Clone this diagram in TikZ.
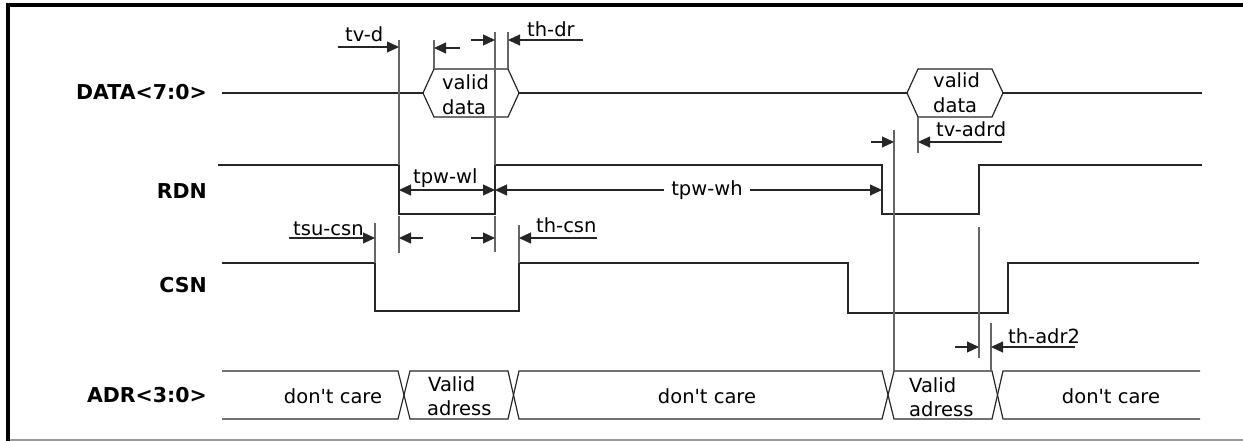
\documentclass[tikz,border=0pt]{standalone}
\usepackage{fontspec}
\newfontfamily\dv{DejaVu Sans}
\usetikzlibrary{arrows.meta}
\begin{document}
\begin{tikzpicture}[x=1pt,y=-1pt,
  sig/.style={draw=black!85,line width=1.2pt,line join=miter},
  tmark/.style={draw=black!60,line width=1.2pt},
  dim/.style={draw=black!85,line width=1.2pt,-{Triangle[length=12pt,width=11pt]}},
  dimb/.style={draw=black!85,line width=1.2pt,{Triangle[length=12pt,width=11pt]}-{Triangle[length=12pt,width=11pt]}},
  lbl/.style={inner sep=0pt,font=\dv\fontsize{19.5}{22}\selectfont},
  sigl/.style={inner sep=0pt,anchor=base east,font=\dv\bfseries\fontsize{20.5}{24}\selectfont},
]
\useasboundingbox (0,0) rectangle (1243,441);
% frame
\draw[line width=4pt] (6,4.7) -- (1243,4.7);
\draw[line width=4pt] (8,2.7) -- (8,441);
\draw[black!40,line width=1.5pt] (10,440) -- (1243,440);

% signal names
\node[sigl] (ldata) at (207,100) {DATA<7:0>};
\node[sigl] (lrdn)  at (207,198) {RDN};
\node[sigl] (lcsn)  at (207,292) {CSN};
\node[sigl] (ladr)  at (207,402) {ADR<3:0>};

% DATA
\draw[sig] (222,93) -- (423,93);
\draw[sig] (423,93) -- (434,69) -- (508,69) -- (519,93) -- (508,117) -- (434,117) -- cycle;
\draw[sig] (519,93) -- (907,93);
\draw[sig] (907,93) -- (918,69) -- (992,69) -- (1003,93) -- (992,117) -- (918,117) -- cycle;
\draw[sig] (1003,93) -- (1202,93);
\node[lbl,anchor=base west] (hv1) at (442,90) {valid};
\node[lbl,anchor=base west] (hd1) at (442,115) {data};
\node[lbl,anchor=base west] (hv2) at (933,88) {valid};
\node[lbl,anchor=base west] (hd2) at (933,113) {data};

% RDN
\draw[sig] (218,165) -- (399,165) -- (399,214) -- (495,214) -- (495,165) -- (882,165) -- (882,214) -- (979,214) -- (979,165) -- (1202,165);

% CSN
\draw[sig] (222,263) -- (375,263) -- (375,311) -- (519,311) -- (519,263) -- (848,263) -- (848,313) -- (1008,313) -- (1008,263) -- (1199,263);

% ADR bus
\draw[sig] (222,371) -- (398,371) -- (410,419) -- (508,419) -- (519,371) -- (882,371) -- (894,419) -- (992,419) -- (1003,371) -- (1200,371);
\draw[sig] (222,419) -- (398,419) -- (410,371) -- (508,371) -- (519,419) -- (882,419) -- (894,371) -- (992,371) -- (1003,419) -- (1200,419);
\node[lbl,anchor=base] (dc1) at (333,403) {don't care};
\node[lbl,anchor=base west] (av1) at (428,391) {Valid};
\node[lbl,anchor=base west] (aa1) at (427,415) {adress};
\node[lbl,anchor=base] (dc2) at (707,403) {don't care};
\node[lbl,anchor=base west] (av2) at (909,392) {Valid};
\node[lbl,anchor=base west] (aa2) at (909,416) {adress};
\node[lbl,anchor=base] (dc3) at (1111,403) {don't care};

% timing marker lines
\draw[tmark] (399,40) -- (399,165);
\draw[tmark] (495,32) -- (495,165);
\draw[tmark] (434,40) -- (434,69);
\draw[tmark] (508,32) -- (508,69);
\draw[tmark] (399,216) -- (399,253);
\draw[tmark] (495,216) -- (495,252);
\draw[tmark] (375,223) -- (375,263);
\draw[tmark] (519,225) -- (519,263);
\draw[tmark] (894,130) -- (894,371);
\draw[tmark] (918,117) -- (918,153);
\draw[tmark] (979,227) -- (979,358);
\draw[tmark] (991,323) -- (991,371);

% coordinates for dimension arrows
\coordinate (tvdA) at (338,47);  \coordinate (tvdB) at (399,47);
\coordinate (d1A) at (460,48);   \coordinate (d1B) at (434,48);
\coordinate (d2A) at (471,40);   \coordinate (d2B) at (495,40);
\coordinate (thdrA) at (583,40); \coordinate (thdrB) at (508,40);
\coordinate (wlA) at (399,190);  \coordinate (wlB) at (495,190);
\coordinate (whB) at (882,190);
\coordinate (c1A) at (423,238);  \coordinate (c1B) at (399,238);
\coordinate (c2A) at (471,238);  \coordinate (c2B) at (495,238);
\coordinate (tsuA) at (289,238); \coordinate (tsuB) at (375,238);
\coordinate (thcA) at (597,238); \coordinate (thcB) at (519,238);
\coordinate (r1A) at (871,142);  \coordinate (r1B) at (894,142);
\coordinate (tvaA) at (1002,142); \coordinate (tvaB) at (918,142);
\coordinate (a1A) at (955,347);  \coordinate (a1B) at (979,347);
\coordinate (thaA) at (1075,347); \coordinate (thaB) at (991,347);

\draw[dim] (tvdA) -- (tvdB);
\draw[dim] (d1A) -- (d1B);
\draw[dim] (d2A) -- (d2B);
\draw[dim] (thdrA) -- (thdrB);
\draw[dimb] (wlA) -- (wlB);
\node[lbl,inner xsep=7pt] (tpwwh) at (707,190) {tpw-wh};
\draw[dim] (tpwwh.west) -- (wlB);
\draw[dim] (tpwwh.east) -- (whB);
\draw[dim] (c1A) -- (c1B);
\draw[dim] (c2A) -- (c2B);
\draw[dim] (tsuA) -- (tsuB);
\draw[dim] (thcA) -- (thcB);
\draw[dim] (r1A) -- (r1B);
\draw[dim] (tvaA) -- (tvaB);
\draw[dim] (a1A) -- (a1B);
\draw[dim] (thaA) -- (thaB);

% dimension labels
\node[lbl,anchor=base west] (tvd) at (345,42) {tv-d};
\node[lbl,anchor=base west] (thdr) at (527,37) {th-dr};
\node[lbl,anchor=base west] (tpwwl) at (413,183) {tpw-wl};
\node[lbl,anchor=base west] (tsucsn) at (293,235) {tsu-csn};
\node[lbl,anchor=base west] (thcsn) at (536,233) {th-csn};
\node[lbl,anchor=base west] (tvadrd) at (936,137) {tv-adrd};
\node[lbl,anchor=base west] (thadr) at (1008,343) {th-adr2};
\end{tikzpicture}
\end{document}
